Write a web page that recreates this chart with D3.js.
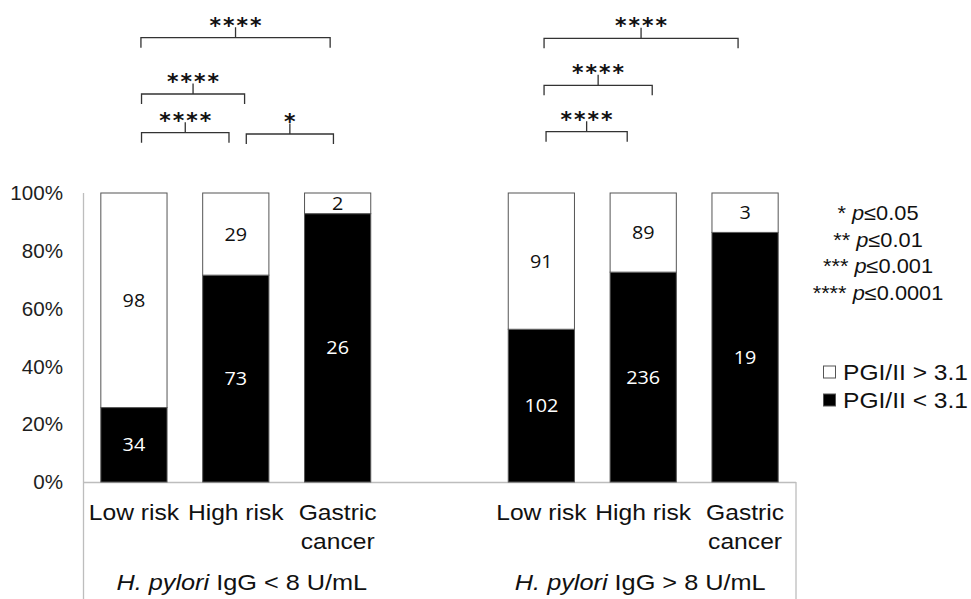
<!DOCTYPE html>
<html>
<head>
<meta charset="utf-8">
<script src="https://cdn.jsdelivr.net/npm/d3@7"></script>
<style>
  body { margin: 0; background: #fff; }
  svg { display: block; font-family: "Liberation Sans", Arial, sans-serif; }
</style>
</head>
<body>
<svg id="chart" width="971" height="599"></svg>
<script>
// data (patient counts)
const categories = ['Low risk', 'High risk', 'Gastric cancer'];
const groups = ['<', '>'];                 // H. pylori IgG < / > 8 U/mL
const belowCut_lt8 = [34, 73, 26];         // PGI/II < 3.1
const aboveCut_lt8 = [98, 29, 2];          // PGI/II > 3.1
const belowCut_gt8 = [102, 236, 19];
const aboveCut_gt8 = [91, 89, 3];
const yTicks = [0, 0.2, 0.4, 0.6, 0.8, 1];
const sigKey = [['*', '0.05'], ['**', '0.01'], ['***', '0.001'], ['****', '0.0001']];
const legendItems = ['PGI/II > 3.1', 'PGI/II < 3.1'];
// [group, from, to, stars]
const comparisons = [
  [0, 'Low risk', 'Gastric cancer', '****'],
  [0, 'Low risk', 'High risk', '****'],
  [0, 'Low risk', 'High risk', '****'],
  [0, 'High risk', 'Gastric cancer', '*'],
  [1, 'Low risk', 'Gastric cancer', '****'],
  [1, 'Low risk', 'High risk', '****'],
  [1, 'Low risk', 'High risk', '****']
];

const SX = 1.15; // the source picture is a little wider than tall
const svg = d3.select('#chart');

function place(sel, x, y, sx = SX) {
  return sel.attr('transform', `translate(${x},${y}) scale(${sx},1)`);
}

const slots = [];
groups.forEach((g, gi) => {
  if (gi > 0) slots.push('gap');
  categories.forEach(c => slots.push(gi + '|' + c));
});

const x = d3.scaleBand().domain(slots).range([83, 796])
  .paddingInner(0.35).paddingOuter(0.175);
const y = d3.scaleLinear().domain([0, 1]).range([482, 193]);
const bw = x.bandwidth();
const cx = key => x(key) + bw / 2;

const rows = [];
[[belowCut_lt8, aboveCut_lt8], [belowCut_gt8, aboveCut_gt8]].forEach(([lo, hi], gi) => {
  categories.forEach((c, i) => {
    const total = lo[i] + hi[i];
    rows.push({key: gi + '|' + c, lo: lo[i], hi: hi[i], frac: lo[i] / total});
  });
});

// axis frame
const axisColor = '#bdbdbd';
svg.append('line').attr('x1', 83.5).attr('x2', 83.5).attr('y1', y(1)).attr('y2', 599)
  .attr('stroke', axisColor).attr('stroke-width', 1.3);
svg.append('line').attr('x1', 83).attr('x2', 796).attr('y1', 482.5).attr('y2', 482.5)
  .attr('stroke', axisColor).attr('stroke-width', 1.3);
svg.append('line').attr('x1', 796).attr('x2', 796).attr('y1', 482).attr('y2', 599)
  .attr('stroke', axisColor).attr('stroke-width', 1.3);

// y tick labels
svg.append('g').selectAll('text')
  .data(yTicks)
  .enter().append('text')
  .call(s => s.each(function(d) { place(d3.select(this), 63, y(d), 1.03); }))
  .attr('dy', '0.36em')
  .attr('text-anchor', 'end')
  .attr('font-size', 20)
  .attr('fill', '#1e1e1e')
  .text(d3.format('.0%'));

// stacked bars
const bars = svg.append('g').attr('stroke', '#555').attr('stroke-width', 1);
bars.selectAll('rect.lo')
  .data(rows)
  .enter().append('rect')
  .attr('class', 'lo')
  .attr('x', d => x(d.key)).attr('width', bw)
  .attr('y', d => y(d.frac)).attr('height', d => y(0) - y(d.frac))
  .attr('fill', '#000');
bars.selectAll('rect.hi')
  .data(rows)
  .enter().append('rect')
  .attr('class', 'hi')
  .attr('x', d => x(d.key)).attr('width', bw)
  .attr('y', y(1)).attr('height', d => y(d.frac) - y(1))
  .attr('fill', '#fff');

// counts inside the bars
const counts = svg.append('g')
  .attr('font-family', '"Open Sans", "Noto Sans", sans-serif')
  .attr('font-size', 18)
  .attr('text-anchor', 'middle');
rows.forEach(d => {
  place(counts.append('text'), cx(d.key), (y(1) + y(d.frac)) / 2, 1.1)
    .attr('dy', '0.36em').attr('fill', '#111').text(d.hi);
  place(counts.append('text'), cx(d.key), (y(d.frac) + y(0)) / 2, 1.1)
    .attr('dy', '0.36em').attr('fill', '#fff').text(d.lo);
});

// category labels
const catG = svg.append('g').attr('font-size', 22).attr('fill', '#111').attr('text-anchor', 'middle');
rows.forEach(d => {
  const words = d.key.split('|')[1].split(' ');
  const lines = words.length > 1 && words[1] === 'cancer' ? words : [words.join(' ')];
  lines.forEach((ln, li) => {
    place(catG.append('text'), cx(d.key), 520 + li * 29, 1.12).text(ln);
  });
});

// group labels
groups.forEach((g, gi) => {
  const t = place(catG.append('text'), cx(gi + '|High risk') + (gi ? -3 : 6), 590);
  t.append('tspan').attr('font-style', 'italic').text('H. pylori');
  t.append('tspan').text(` IgG ${g} 8 U/mL`);
});

// significance brackets: [line y, nudge at start, nudge at end]
const bracketLayout = [
  [37.7, 7, -7.5], [94, 7.6, 8.8], [132.7, 7.6, -6.8], [134, 10.5, -4.2],
  [38.3, 2.7, -7], [85.3, 2.7, 9], [131.7, 4.7, -16]
];
const br = svg.append('g');
comparisons.forEach(([gi, from, to, stars], i) => {
  const [ly, d1, d2] = bracketLayout[i];
  const x1 = cx(gi + '|' + from) + d1;
  const x2 = cx(gi + '|' + to) + d2;
  const xm = (x1 + x2) / 2;
  br.append('path')
    .attr('d', `M${x1},${ly + 10}V${ly}H${x2}V${ly + 10}M${xm},${ly}V${ly - 10.5}`)
    .attr('fill', 'none').attr('stroke', '#333').attr('stroke-width', 1.3);
  br.append('text')
    .attr('x', xm + 1).attr('y', ly - 17 + 12)
    .attr('text-anchor', 'middle')
    .attr('font-family', '"DejaVu Sans", sans-serif')
    .attr('font-weight', 'bold')
    .attr('font-size', 22)
    .attr('letter-spacing', 2)
    .attr('fill', '#111')
    .text(stars);
});

// p-value key
const key = svg.append('g').attr('font-size', 20).attr('fill', '#111').attr('text-anchor', 'middle');
sigKey.forEach(([s, p], i) => {
  const t = place(key.append('text'), 878, 220 + i * 26.5, 1.09);
  t.append('tspan').text(s + ' ');
  t.append('tspan').attr('font-style', 'italic').text('p');
  t.append('tspan').text('≤' + p);
});

// fill legend
const leg = svg.append('g');
legendItems.forEach((name, i) => {
  const ly = 372 + i * 28;
  leg.append('rect')
    .attr('x', 823.5).attr('y', ly - 6).attr('width', 12).attr('height', 12)
    .attr('fill', i === 0 ? '#fff' : '#000')
    .attr('stroke', '#555').attr('stroke-width', 1);
  leg.append('text')
    .attr('x', 843).attr('y', ly + 8)
    .attr('font-size', 22).attr('fill', '#111')
    .attr('textLength', 125).attr('lengthAdjust', 'spacingAndGlyphs')
    .text(name);
});
</script>
</body>
</html>
